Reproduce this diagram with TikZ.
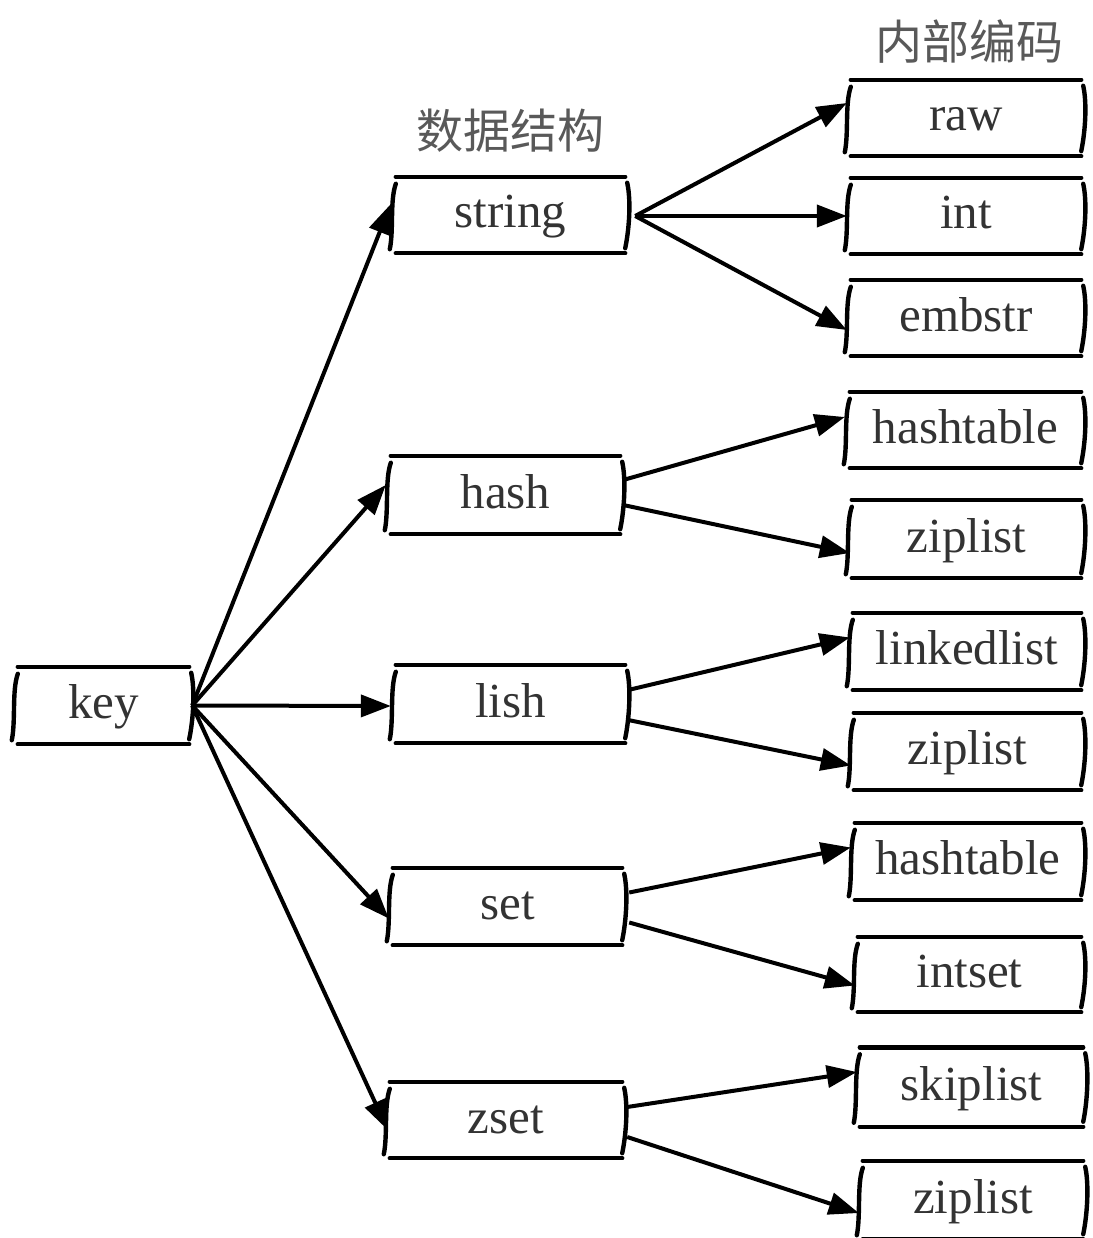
\documentclass[tikz,border=0pt]{standalone}
\usepackage{fontspec}
\setmainfont{Liberation Serif}
\newfontfamily\cjkfont{Noto Sans CJK SC}
\usetikzlibrary{arrows.meta,calc}
\newcommand\skbox[1]{%
  \draw[skline] ($(#1.north west)+(3,0)$) -- ($(#1.north east)+(-3,0)$);
  \draw[skline] ($(#1.south west)+(3,0)$) -- ($(#1.south east)+(-3,0)$);
  \draw[skline] ($(#1.north west)+(3,7)$) .. controls ($(#1.north west)+(-3,24)$) and ($(#1.south west)+(1,-24)$) .. ($(#1.south west)+(-3,-4)$);
  \draw[skline] ($(#1.north east)+(-1,6)$) .. controls ($(#1.north east)+(3,24)$) and ($(#1.south east)+(1,-24)$) .. ($(#1.south east)+(-3,-5)$);
}
\begin{document}
\begin{tikzpicture}[x=1pt,y=-1pt,
  box/.style={minimum height=77pt, inner sep=0pt, text height=36pt, text depth=10pt,
              font=\fontsize{49}{52}\selectfont, text=black!80},
  skline/.style={line width=4.4pt, line cap=round, black},
  arr/.style={line width=4pt, -{Triangle[length=30pt,width=22pt]}},
  head/.style={font=\cjkfont\fontsize{47}{52}\selectfont, text=black!65}]
\useasboundingbox[fill=white] (0,0) rectangle (1092,1238);

% labels
\node[head] (h1) at (510,131) {数据结构};
\node[head] (h2) at (969,42) {内部编码};

% left and middle nodes
\node[box, minimum width=177pt] (key) at (103.5,705.5) {key};
\node[box, minimum width=235pt, minimum height=76pt] (string) at (510.5,215) {string};
\node[box, minimum width=235pt, minimum height=78pt] (hash) at (505.5,495) {hash};
\node[box, minimum width=235pt, minimum height=78pt] (lish) at (510.5,704) {lish};
\node[box, minimum width=235pt] (set) at (507.5,906.5) {set};
\node[box, minimum width=238pt, minimum height=76pt] (zset) at (506,1120) {zset};

% right nodes
\node[box, minimum width=236pt, minimum height=76pt] (raw) at (966,118) {raw};
\node[box, minimum width=236pt, minimum height=76pt] (int) at (966,216) {int};
\node[box, minimum width=236pt, minimum height=76pt] (embstr) at (966,318) {embstr};
\node[box, minimum width=237pt, minimum height=76pt] (ht1) at (965.5,430) {hashtable};
\node[box, minimum width=235pt, minimum height=78pt] (zl1) at (966.5,539) {ziplist};
\node[box, minimum width=234pt, minimum height=77pt] (ll) at (967,651.5) {linkedlist};
\node[box, minimum width=233pt, minimum height=77pt] (zl2) at (967.5,751.5) {ziplist};
\node[box, minimum width=232pt, minimum height=77pt] (ht2) at (968,861.5) {hashtable};
\node[box, minimum width=229pt, minimum height=75pt] (is) at (969.5,974.5) {intset};
\node[box, minimum width=229pt, minimum height=79pt] (sl) at (971.5,1087) {skiplist};
\node[box, minimum width=226pt, minimum height=78pt] (zl3) at (973,1200) {ziplist};

\foreach \n in {key,string,hash,lish,set,zset,raw,int,embstr,ht1,zl1,ll,zl2,ht2,is,sl,zl3}{\skbox{\n}}

% key -> data structures
\draw[arr] (key.east) -- ($(string.west)+(-2,-11)$);
\draw[arr] (key.east) -- ($(hash.west)+(-2,-10)$);
\draw[arr] (key.east) -- ($(lish.west)+(-2,2)$);
\draw[arr] (key.east) -- ($(set.west)+(-1,12)$);
\draw[arr] (key.east) -- ($(zset.west)+(1,10)$);

% string
\draw[arr] ($(string.east)+(7,1)$) -- ($(raw.west)+(-1,-15)$);
\draw[arr] ($(string.east)+(7,1)$) -- ($(int.west)+(-1,0)$);
\draw[arr] ($(string.east)+(7,1)$) -- ($(embstr.west)+(-1,12)$);

% hash
\draw[arr] ($(hash.east)+(0,-15)$) -- ($(ht1.west)+(-2,-13)$);
\draw[arr] ($(hash.east)+(0,10)$) -- ($(zl1.west)+(1,14)$);

% lish
\draw[arr] ($(lish.east)+(0,-14)$) -- ($(ll.west)+(0,-14)$);
\draw[arr] ($(lish.east)+(0,16)$) -- ($(zl2.west)+(0,14)$);

% set
\draw[arr] ($(set.east)+(4,-14)$) -- ($(ht2.west)+(-1,-14)$);
\draw[arr] ($(set.east)+(4,16)$) -- ($(is.west)+(0,11)$);

% zset
\draw[arr] ($(zset.east)+(2,-13)$) -- ($(sl.west)+(0,-15)$);
\draw[arr] ($(zset.east)+(2,17)$) -- ($(zl3.west)+(-1,13)$);
\end{tikzpicture}
\end{document}
